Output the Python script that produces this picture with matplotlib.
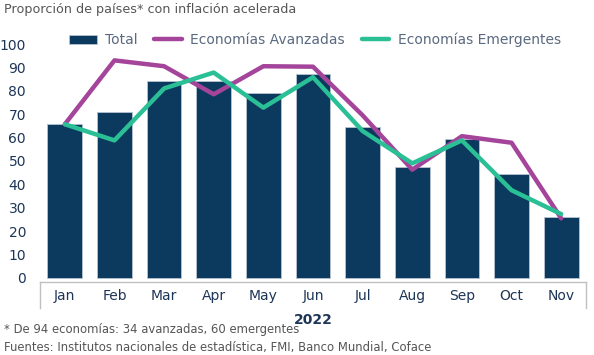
import numpy as np
import matplotlib.pyplot as plt

meses = ['Jan', 'Feb', 'Mar', 'Apr', 'May', 'Jun', 'Jul', 'Aug', 'Sep', 'Oct', 'Nov']
total = [65.7, 70.8, 84.2, 84.0, 79.0, 87.2, 64.7, 47.6, 59.3, 44.3, 26.2]
avanzadas = [65.7, 93.0, 90.5, 78.5, 90.5, 90.3, 69.5, 46.3, 60.6, 57.8, 25.5]
emergentes = [65.7, 58.8, 81.0, 87.8, 72.8, 85.8, 62.8, 49.0, 58.8, 37.5, 27.3]

navy = '#0b3a5e'
purple = '#a4449a'
green = '#2bbf96'
txt = '#1d3557'

plt.rcParams['font.family'] = 'DejaVu Sans'

fig = plt.figure(figsize=(5.94, 3.55), dpi=100)
ax = fig.add_axes([40 / 594, (355 - 281.7) / 355, 546 / 594, (281.7 - 44) / 355])

x = np.arange(len(meses))
ax.bar(x, total, width=0.7, color=navy, edgecolor='#b8c4d0', linewidth=0.6, label='Total', zorder=2)
ax.plot(x, avanzadas, color=purple, lw=3.2, label='Economías Avanzadas', zorder=3,
        solid_capstyle='round')
ax.plot(x, emergentes, color=green, lw=3.2, label='Economías Emergentes', zorder=4,
        solid_capstyle='round')

ax.set_xlim(-0.5, len(meses) - 0.5)
ax.set_ylim(-1.6, 100)
ax.set_yticks(range(0, 101, 10))
ax.set_xticks(x)
ax.set_xticklabels(meses)
ax.tick_params(axis='y', length=0, pad=10, labelsize=10, labelcolor=txt)
ax.tick_params(axis='x', length=0, pad=5, labelsize=10, labelcolor=txt)
for s in ['top', 'right', 'left']:
    ax.spines[s].set_visible(False)
ax.spines['bottom'].set_color('#c0c0c0')
ax.spines['bottom'].set_linewidth(1.0)

# bracket lines at both ends of the category axis
for xe in [-0.5, len(meses) - 0.5]:
    ax.plot([xe, xe], [0, -0.11], transform=ax.get_xaxis_transform(), color='#c0c0c0',
            lw=1.0, clip_on=False)
ax.text(0.5, -0.162, '2022', transform=ax.transAxes, ha='center', va='center',
        fontsize=10, fontweight='bold', color=txt)

h, l = ax.get_legend_handles_labels()
order = [2, 0, 1]
leg = fig.legend([h[i] for i in order], [l[i] for i in order], loc='center',
                 bbox_to_anchor=(0.53, (355 - 40) / 355), ncol=3, frameon=False,
                 fontsize=10, handlelength=2.0, columnspacing=1.2, handletextpad=0.6)
for t in leg.get_texts():
    t.set_color('#5a6a80')

fig.text(4 / 594, (355 - 10) / 355, 'Proporción de países* con inflación acelerada',
         fontsize=9.2, color='#555555', va='center', ha='left')
fig.text(4 / 594, (355 - 330) / 355, '* De 94 economías: 34 avanzadas, 60 emergentes',
         fontsize=8.4, color='#555555', va='center', ha='left')
fig.text(4 / 594, (355 - 347) / 355,
         'Fuentes: Institutos nacionales de estadística, FMI, Banco Mundial, Coface',
         fontsize=8.4, color='#555555', va='center', ha='left')

fig.savefig('out.png', dpi=100)
